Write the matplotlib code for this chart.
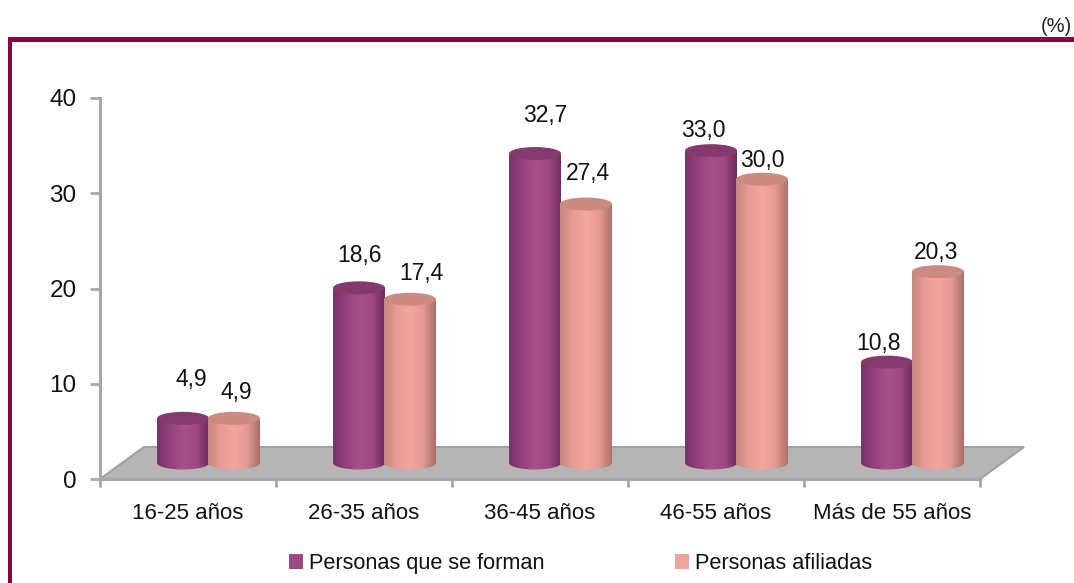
import numpy as np
import matplotlib
matplotlib.use("Agg")
import matplotlib.pyplot as plt
from matplotlib.patches import Ellipse, Polygon, Patch, Rectangle
from matplotlib.colors import LinearSegmentedColormap

categories = ["16-25 años", "26-35 años", "36-45 años", "46-55 años", "Más de 55 años"]
forman = [4.9, 18.6, 32.7, 33.0, 10.8]
afiliadas = [4.9, 17.4, 27.4, 30.0, 20.3]
forman_labels = ["4,9", "18,6", "32,7", "33,0", "10,8"]
afiliadas_labels = ["4,9", "17,4", "27,4", "30,0", "20,3"]
series_names = ["Personas que se forman", "Personas afiliadas"]
yticks = [0, 10, 20, 30, 40]

W, H = 1074, 583
plt.rcParams["font.family"] = ["Liberation Sans Narrow", "Liberation Sans", "DejaVu Sans"]

fig = plt.figure(figsize=(W / 100, H / 100), dpi=100)
def px_rect(x0, y0, x1, y1):
    return [x0 / W, 1 - y1 / H, (x1 - x0) / W, (y1 - y0) / H]

# outer frame
fig.add_artist(Rectangle((8 / W, 1 - 41.5 / H), (W - 8) / W, 4 / H, transform=fig.transFigure, color="#8E0046", lw=0))
fig.add_artist(Rectangle((8 / W, 0), 4 / W, 1 - 37.5 / H, transform=fig.transFigure, color="#8E0046", lw=0))
fig.text(1072 / W, 1 - 26 / H, "(%)", ha="right", va="center", fontsize=14.5, color="#222222")

ax = fig.add_axes(px_rect(100, 98, 980, 479))
ax.patch.set_visible(False)
for s in ("top", "right"):
    ax.spines[s].set_visible(False)
for s in ("left", "bottom"):
    ax.spines[s].set_color("#A6A6A6")
    ax.spines[s].set_linewidth(2.2)
ax.set_xticks(np.arange(6))
ax.set_xticklabels([])
ax.set_xticks(np.arange(5) + 0.5, minor=True)
ax.set_xticklabels(categories, minor=True, fontsize=16, color="#111111")
ax.tick_params(axis="x", which="minor", length=0, pad=17)
ax.tick_params(axis="x", which="major", length=6, width=2, color="#A6A6A6")
ax.set_yticks(yticks)
ax.set_yticklabels([str(v) for v in yticks], fontsize=17.5, color="#111111")
ax.tick_params(axis="y", length=7, width=2, color="#A6A6A6", pad=10)

# 3-D look parameters in data units
DX = 20.5 / 176
DY = 16.0 / 9.525
TOP_DY = 14.0 / 9.525
BW = 52.0 / 176
EH = 13.0 / 9.525
floor_dx = 44.0 / 176
floor_dy = 32.0 / 9.525
ax.add_patch(Polygon([(0, 0), (5, 0), (5 + floor_dx, floor_dy), (floor_dx, floor_dy)],
                     closed=True, fc="#B5B5B5", ec="#A0A0A0", lw=1.5, clip_on=False, zorder=1))

purple = LinearSegmentedColormap.from_list("p", ["#7A3066", "#93407F", "#A85088", "#A04A85", "#6E2A5C"])
salmon = LinearSegmentedColormap.from_list("s", ["#C68880", "#E89C95", "#F2A69F", "#E49A92", "#A86E68"])

def cylinder(cx, value, cmap, top_color, z):
    left, right = cx - BW / 2, cx + BW / 2
    base, top = DY, TOP_DY + value
    t = np.linspace(np.pi, 2 * np.pi, 40)
    lower = [(cx + BW / 2 * np.cos(a), base + EH / 2 * np.sin(a)) for a in t]
    outline = Polygon([(left, top)] + lower + [(right, top)], closed=True, fc="none", ec="none", zorder=z)
    ax.add_patch(outline)
    grad = np.linspace(0, 1, 128).reshape(1, -1)
    im = ax.imshow(grad, cmap=cmap, extent=(left, right, base - EH, top), aspect="auto", zorder=z)
    im.set_clip_path(outline)
    ax.add_patch(Ellipse((cx, top), BW, EH, fc=top_color, ec="none", zorder=z + 0.1))

offs_f = [(8, 39), (0, 32), (10, 38), (-8, 20), (-9, 19)]
offs_a = [(2, 26), (11, 26), (2, 31), (0, 19), (-2, 19)]
for i in range(5):
    cf = i + 0.5 + DX - BW / 2 + 0.003
    ca = i + 0.5 + DX + BW / 2 - 0.003
    cylinder(cf, forman[i], purple, "#843A6C", 3 + i * 0.01)
    cylinder(ca, afiliadas[i], salmon, "#CC8A82", 4 + i * 0.01)
    ax.annotate(forman_labels[i], (cf, forman[i] + TOP_DY), xytext=offs_f[i], textcoords="offset pixels",
                ha="center", va="center", fontsize=16.5, color="#111111", zorder=6, annotation_clip=False)
    ax.annotate(afiliadas_labels[i], (ca, afiliadas[i] + TOP_DY), xytext=offs_a[i], textcoords="offset pixels",
                ha="center", va="center", fontsize=16.5, color="#111111", zorder=6, annotation_clip=False)
ax.set_xlim(0, 5)
ax.set_ylim(0, 40)

handles = [Patch(fc="#9C4A82", ec="none"), Patch(fc="#EFA49C", ec="none")]
fig.legend(handles, series_names, ncols=2, loc="center", bbox_to_anchor=(580.5 / W, 1 - 563.5 / H),
           frameon=False, fontsize=15.7, handlelength=0.64, handleheight=0.64, handletextpad=0.3,
           columnspacing=5.95, labelcolor="#111111")
fig.savefig("out.png", dpi=100)
